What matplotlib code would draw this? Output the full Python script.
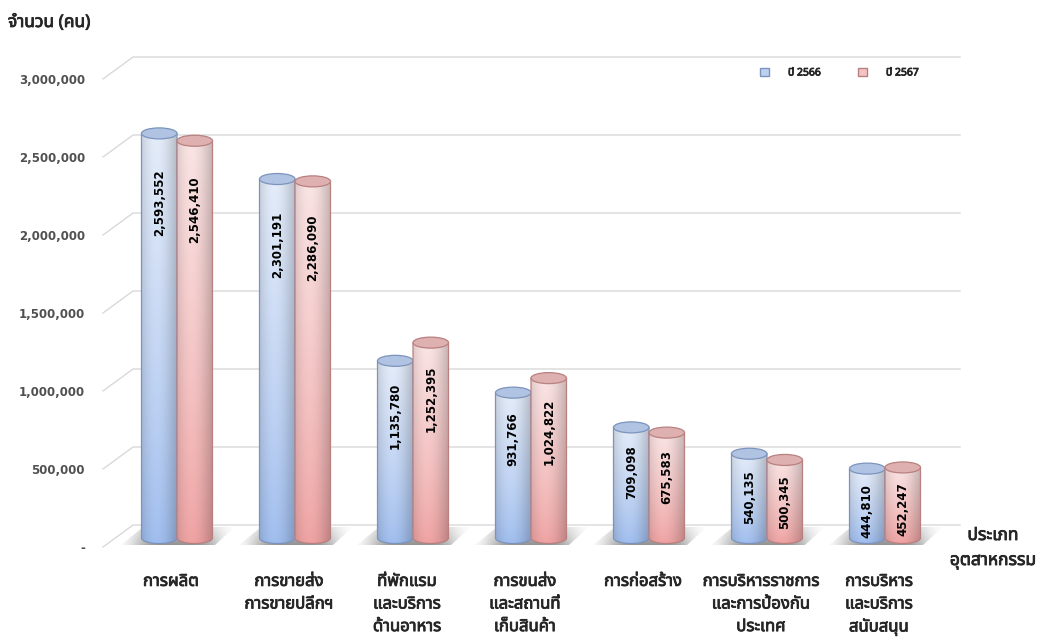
import numpy as np
import matplotlib
matplotlib.use("Agg")
import matplotlib.pyplot as plt
import matplotlib.transforms as mtransforms
import matplotlib.patheffects as pe
from matplotlib import font_manager
from matplotlib.ft2font import FT2Font
from matplotlib.path import Path
from matplotlib.patches import PathPatch, Ellipse, Polygon, Patch
from matplotlib.font_manager import FontProperties

# ---- data ----
categories = [
    "การผลิต",
    "การขายส่ง\nการขายปลีกฯ",
    "ที่พักแรม\nและบริการ\nด้านอาหาร",
    "การขนส่ง\nและสถานที่\nเก็บสินค้า",
    "การก่อสร้าง",
    "การบริหารราชการ\nและการป้องกัน\nประเทศ",
    "การบริหาร\nและบริการ\nสนับสนุน",
]
values_2566 = [2593552, 2301191, 1135780, 931766, 709098, 540135, 444810]
values_2567 = [2546410, 2286090, 1252395, 1024822, 675583, 500345, 452247]
series_names = ["ปี 2566", "ปี 2567"]
y_ticks = [0, 500000, 1000000, 1500000, 2000000, 2500000, 3000000]
y_title = "จำนวน (คน)"
x_title = "ประเภท\nอุตสาหกรรม"


def find_thai_font():
    preferred = ["Tahoma", "Leelawadee UI", "Noto Sans Thai", "Noto Sans Thai UI",
                 "Noto Sans Thai Looped", "Sarabun", "Loma", "Garuda", "Waree",
                 "Umpush", "Kinnari", "Norasi", "Tlwg Typo", "Laksaman"]
    found = {}
    for f in font_manager.fontManager.ttflist:
        try:
            cmap = FT2Font(f.fname).get_charmap()
        except Exception:
            continue
        if 0x0E01 in cmap and 0x0E32 in cmap:
            found.setdefault(f.name, f.fname)
    for name in preferred:
        if name in found:
            return name
    return next(iter(found), None)


thai = find_thai_font()
thai_family = [thai, "DejaVu Sans"] if thai else ["DejaVu Sans"]
text_col = "#262626"
# fake-bold for a Thai face that may come in one weight only
heavy = [pe.withStroke(linewidth=0.6, foreground=text_col)]

# ---- layout (pixels) ----
W, H = 1047, 642
PX_PER_M = 156
Y0_PX = 538           # bar base
LABEL_DROP = 9        # front-plane tick labels sit lower than the bars
BACK_RISE = 13        # back wall gridlines sit higher than the bars
ylo, yhi = -150000, 3200000
ax_bot_px = Y0_PX + (-ylo) / 1e6 * PX_PER_M
ax_top_px = Y0_PX - yhi / 1e6 * PX_PER_M
X_PX = 118.0
c0_px, left_px, right_px = 177, 103, 965
xlo = -(c0_px - left_px) / X_PX
xhi = (right_px - c0_px) / X_PX

px_y = 1e6 / PX_PER_M   # value units per pixel
px_x = 1 / X_PX         # x units per pixel

fig = plt.figure(figsize=(W / 100, H / 100), dpi=100)
ax = fig.add_axes([left_px / W, (H - ax_bot_px) / H,
                   (right_px - left_px) / W, (ax_bot_px - ax_top_px) / H])

depth_dx = 30 * px_x
ry = 5.5 * px_y
bar_w = 35.5 * px_x
grid_end = (960 - c0_px) / X_PX

# back wall gridlines with the small perspective diagonal at the left
for v in y_ticks:
    ax.plot([xlo, xlo + depth_dx, grid_end],
            [v - LABEL_DROP * px_y, v + BACK_RISE * px_y, v + BACK_RISE * px_y],
            color="#d9d9d9", lw=1, zorder=0, clip_on=False)

x = np.arange(len(categories))

# floor shadows
for c in x:
    corners = [(c - 56 * px_x, -7 * px_y), (c + 38 * px_x, -7 * px_y),
               (c + 58 * px_x, 11 * px_y), (c - 34 * px_x, 11 * px_y)]
    poly = Polygon(corners, closed=True, facecolor="none", edgecolor="none")
    ax.add_patch(poly)
    u = np.linspace(-1, 1, 60)
    vv = np.linspace(0, 1, 20)
    a = np.exp(-(u / 0.75) ** 4)[None, :] * (0.45 + 0.55 * vv[:, None])
    img = np.zeros((20, 60, 4))
    img[..., :3] = 0.5
    img[..., 3] = 0.85 * a
    im = ax.imshow(img, extent=(c - 58 * px_x, c + 58 * px_x, -7 * px_y, 11 * px_y),
                   origin="upper", aspect="auto", zorder=1, interpolation="bilinear")
    im.set_clip_path(poly)


def hex2rgb(h):
    return np.array(matplotlib.colors.to_rgb(h))


def cylinder(xc, h, c_top, c_bot, edge, top_face, z):
    x0, x1 = xc - bar_w / 2, xc + bar_w / 2
    t = np.linspace(np.pi, 2 * np.pi, 40)
    arc = np.column_stack([xc + bar_w / 2 * np.cos(t), ry * np.sin(t)])
    verts = [(x0, h)] + arc.tolist() + [(x1, h), (x0, h)]
    codes = [Path.MOVETO] + [Path.LINETO] * (len(verts) - 2) + [Path.CLOSEPOLY]
    body = PathPatch(Path(verts, codes), facecolor="none", edgecolor=edge,
                     lw=0.9, zorder=z + 0.2)
    ax.add_patch(body)
    ny, nx = 120, 40
    frac = np.linspace(1, 0, ny) ** 0.8
    col = hex2rgb(c_bot)[None, :] + (hex2rgb(c_top) - hex2rgb(c_bot))[None, :] * frac[:, None]
    u = np.linspace(0, 1, nx)
    shade = 0.83 + 0.17 * np.cos((u - 0.4) * np.pi * 0.95)
    rgb = np.clip(col[:, None, :] * shade[None, :, None], 0, 1)
    im = ax.imshow(rgb, extent=(x0, x1, -ry, h), origin="upper", aspect="auto",
                   zorder=z, interpolation="bilinear")
    im.set_clip_path(body)
    ax.add_patch(Ellipse((xc, h), bar_w, 2 * ry, facecolor=top_face,
                         edgecolor=edge, lw=0.9, zorder=z + 0.3))


styles = [
    dict(c_top="#e4ecf9", c_bot="#9fbdee", edge="#7c94bd", top_face="#b0c3e3"),
    dict(c_top="#fae4e4", c_bot="#efa2a2", edge="#b98080", top_face="#dfb0b0"),
]
offsets = [-bar_w / 2, bar_w / 2]

for i, c in enumerate(x):
    for s, vals in enumerate([values_2566, values_2567]):
        v = vals[i]
        xc = c + offsets[s]
        cylinder(xc, v, z=2 + i * 2 + s, **styles[s])
        gap = (11 + 9.5 * v / 1e6) * px_y
        ax.text(xc, v - gap, f"{v:,}", rotation=90, ha="center", va="top",
                fontsize=8.5, fontweight="bold", color="black",
                family="DejaVu Sans", zorder=30)

ax.set_xlim(xlo, xhi)
ax.set_ylim(ylo, yhi)
for sp in ax.spines.values():
    sp.set_visible(False)

ax.set_yticks(y_ticks)
ax.set_yticklabels(["-" if v == 0 else f"{v:,}" for v in y_ticks],
                   fontsize=8.5, fontweight="bold", color="#505050")
ax.tick_params(axis="y", length=0, pad=13)
drop = mtransforms.ScaledTranslation(0, -LABEL_DROP / 100, fig.dpi_scale_trans)
for lab in ax.get_yticklabels():
    lab.set_transform(lab.get_transform() + drop)

ax.set_xticks(x - 6 * px_x)
ax.set_xticklabels(categories, fontsize=12, color=text_col,
                   family=thai_family, linespacing=1.55)
for lab in ax.get_xticklabels():
    lab.set_path_effects(heavy)
ax.tick_params(axis="x", length=0, pad=9)

fig.text(8 / W, 1 - 22 / H, y_title, fontsize=12.5, family=thai_family,
         color=text_col, va="center", ha="left", path_effects=heavy)
fig.text(993 / W, 1 - 548 / H, x_title, fontsize=12.5, family=thai_family,
         color=text_col, va="center", ha="center", linespacing=1.5,
         path_effects=heavy)

handles = [Patch(facecolor="#bcd0f0", edgecolor="#7c94bd"),
           Patch(facecolor="#f4c4c4", edgecolor="#b98080")]
leg = fig.legend(handles, series_names, loc="center left",
                 bbox_to_anchor=(751 / W, 1 - 73 / H), ncol=2, frameon=False,
                 handlelength=0.85, handleheight=0.85, handletextpad=1.8,
                 columnspacing=3.6,
                 prop=FontProperties(family=thai_family, size=7.5))
for t in leg.get_texts():
    t.set_path_effects([pe.withStroke(linewidth=0.6, foreground=text_col)])
    t.set_color(text_col)

fig.savefig("out.png", dpi=100, facecolor="white")
